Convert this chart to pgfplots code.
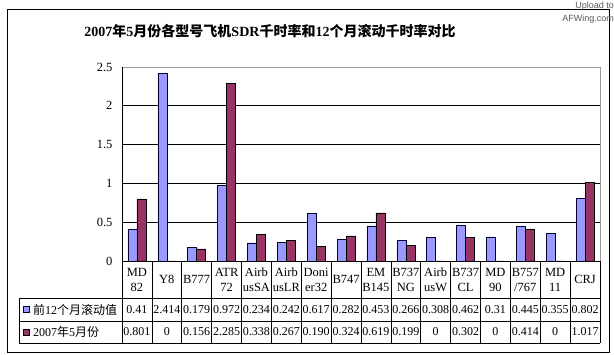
\documentclass[border=0pt]{standalone}
\usepackage{pgfplots}
\pgfplotsset{compat=1.18}
\usepackage{fontspec}
\setmainfont{Liberation Serif}
\newfontfamily\cjk{Noto Sans CJK SC}
\newfontfamily\wm{Liberation Sans}
\definecolor{sblue}{HTML}{9999FF}
\definecolor{sred}{HTML}{993366}
\begin{document}
\begin{tikzpicture}[x=1pt,y=1pt]
\useasboundingbox (-122,-94) rectangle (492,261);
\fill[white] (-122,-94) rectangle (492,261);
\draw[black, line width=0.9pt] (-115,252) rectangle (487,-91);
\node[font=\bfseries\fontsize{14}{16}\selectfont] at (148,230) {2007{\cjk 年}5{\cjk 月份各型号飞机}SDR{\cjk 千时率和}12{\cjk 个月滚动千时率对比}};
\node[font=\wm\fontsize{9}{10}\selectfont, text=gray!70!black, anchor=east, inner sep=0pt] at (492,255) {Upload to};
\node[font=\wm\fontsize{9}{10}\selectfont, text=gray!70!black, anchor=east, inner sep=0pt] at (492,242) {AFWing.com};
\begin{axis}[
  at={(0,0)}, anchor=south west, scale only axis,
  width=478pt, height=194pt,
  xmin=-0.5, xmax=15.5, ymin=0, ymax=2.5,
  ytick={0,0.5,1,1.5,2,2.5},
  yticklabels={0,0.5,1,1.5,2,2.5},
  xtick={0,...,15},
  xticklabels={{MD\\82},{Y8},{B777},{ATR\\72},{Airb\\usSA},{Airb\\usLR},{Doni\\er32},{B747},{EM\\B145},{B737\\NG},{Airb\\usW},{B737\\CL},{MD\\90},{B757\\/767},{MD\\11},{CRJ}},
  xticklabel style={anchor=center, yshift=-18.5pt, align=center, font=\fontsize{12.5}{15}\selectfont},
  yticklabel style={anchor=east, xshift=-6pt, font=\fontsize{12.5}{14}\selectfont},
  major tick length=0pt,
  ymajorgrids, major grid style={black, line width=0.7pt},
  axis line style={gray!80, line width=0.7pt},
  clip=false,
]
\addplot[ybar, bar width=9pt, bar shift=-4.5pt, fill=sblue, draw=black!80!blue, line width=0.6pt] coordinates {
(0,0.41) (1,2.414) (2,0.179) (3,0.972) (4,0.234) (5,0.242) (6,0.617) (7,0.282)
(8,0.453) (9,0.266) (10,0.308) (11,0.462) (12,0.31) (13,0.445) (14,0.355) (15,0.802)};
\addplot[ybar, bar width=9pt, bar shift=4.5pt, fill=sred, draw=black, line width=0.6pt] coordinates {
(0,0.801) (1,0) (2,0.156) (3,2.285) (4,0.338) (5,0.267) (6,0.190) (7,0.324)
(8,0.619) (9,0.199) (10,0) (11,0.302) (12,0) (13,0.414) (14,0) (15,1.017)};
\end{axis}
% axis lines left and bottom
\draw[black, line width=0.8pt] (0,194) -- (0,0) -- (478,0);
% data table
\def\cw{29.875}
\foreach \k in {0,...,16} {\draw[black, line width=0.7pt] (\k*\cw,0) -- (\k*\cw,-82);}
\draw[black, line width=0.7pt] (-103,-37) -- (478,-37);
\draw[black, line width=0.7pt] (-103,-60) -- (478,-60);
\draw[black, line width=0.7pt] (-103,-82) -- (478,-82);
\draw[black, line width=0.7pt] (-103,-37) -- (-103,-82);
\draw[black!80!blue, fill=sblue, line width=0.5pt] (-99,-51.5) rectangle (-93,-45.5);
\draw[black, fill=sred, line width=0.5pt] (-99,-74) rectangle (-93,-68);
\node[anchor=west, inner sep=0pt, font=\fontsize{12}{14}\selectfont] at (-89,-48.5) {{\cjk 前}12{\cjk 个月滚动值}};
\node[anchor=west, inner sep=0pt, font=\fontsize{12}{14}\selectfont] at (-89,-71) {2007{\cjk 年}5{\cjk 月份}};
\foreach \v [count=\i from 0] in {0.41,2.414,0.179,0.972,0.234,0.242,0.617,0.282,0.453,0.266,0.308,0.462,0.31,0.445,0.355,0.802}
  {\node[font=\fontsize{12}{14}\selectfont, inner sep=0pt] at ({(\i+0.5)*\cw},-48.5) {\v};}
\foreach \v [count=\i from 0] in {0.801,0,0.156,2.285,0.338,0.267,0.190,0.324,0.619,0.199,0,0.302,0,0.414,0,1.017}
  {\node[font=\fontsize{12}{14}\selectfont, inner sep=0pt] at ({(\i+0.5)*\cw},-71) {\v};}
\end{tikzpicture}
\end{document}
